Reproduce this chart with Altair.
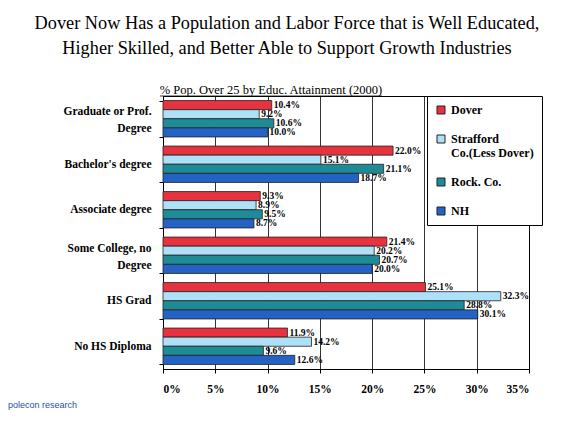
import altair as alt
import pandas as pd

categories = ["Graduate or Prof. Degree", "Bachelor's degree", "Associate degree",
              "Some College, no Degree", "HS Grad", "No HS Diploma"]
series = ["Dover", "Strafford Co.(Less Dover)", "Rock. Co.", "NH"]
dover = [10.4, 22.0, 9.3, 21.4, 25.1, 11.9]
strafford = [9.2, 15.1, 8.9, 20.2, 32.3, 14.2]
rock = [10.6, 21.1, 9.5, 20.7, 28.8, 9.6]
nh = [10.0, 18.7, 8.7, 20.0, 30.1, 12.6]
x_ticks = [0, 5, 10, 15, 20, 25, 30, 35]
colors = ["#e8323f", "#aee0f7", "#1e8c96", "#2463c4"]

title_lines = ["Dover Now Has a Population and Labor Force that is Well Educated,",
               "Higher Skilled, and Better Able to Support Growth Industries"]
subtitle = "% Pop. Over 25 by Educ. Attainment (2000)"
SERIF = "Liberation Serif"

rows = []
for s, vals in zip(series, [dover, strafford, rock, nh]):
    for c, v in zip(categories, vals):
        rows.append({"category": c, "series": s, "value": v, "label": f"{v:.1f}%"})
df = pd.DataFrame(rows)

multi_test = "datum.value == 'Graduate or Prof. Degree' || datum.value == 'Some College, no Degree'"
y_axis = alt.Axis(title=None, labelPadding=8, tickBand="extent", tickSize=4,
                  labelExpr="datum.value == 'Graduate or Prof. Degree' ? ['Graduate or Prof.', 'Degree'] : datum.value == 'Some College, no Degree' ? ['Some College, no', 'Degree'] : datum.value",
                  labelLineHeight=17,
                  labelOffset={"condition": {"test": multi_test, "value": -7}, "value": 0})
y_enc = alt.Y("category:N", sort=categories,
              scale=alt.Scale(paddingInner=0.2, paddingOuter=0.1), axis=y_axis)
yoff = alt.YOffset("series:N", sort=series)
x_axis = alt.Axis(title=None, values=x_ticks, labelExpr="datum.value + '%'",
                  labelPadding=10, tickSize=4, grid=True, gridColor="black",
                  gridWidth=0.8)
x_enc = alt.X("value:Q", scale=alt.Scale(domain=[0, 35], nice=False), axis=x_axis)

base = alt.Chart(df)
bars = base.mark_bar(stroke="#222", strokeWidth=0.8).encode(
    y=y_enc, yOffset=yoff, x=x_enc,
    color=alt.Color("series:N", sort=series,
                    scale=alt.Scale(domain=series, range=colors),
                    legend=alt.Legend(title=None, orient="none", legendX=264, legendY=0,
                                      padding=8, strokeColor="black", fillColor="white",
                                      symbolType="square", symbolSize=64,
                                      symbolStrokeColor="#222", symbolStrokeWidth=1,
                                      labelFont=SERIF, labelFontSize=12,
                                      labelFontWeight="bold", labelColor="black",
                                      rowPadding=17, labelLimit=200, labelOffset=4,
                                      labelExpr="datum.label == 'Strafford Co.(Less Dover)' ? ['Strafford', 'Co.(Less Dover)'] : datum.label"))
)
texts = base.mark_text(align="left", baseline="middle", dx=2, font=SERIF,
                       fontSize=9.5, fontWeight="bold", color="black").encode(
    y=alt.Y("category:N", sort=categories, axis=y_axis), yOffset=yoff,
    x=alt.X("value:Q", axis=x_axis), text="label:N"
)

sub_df = pd.DataFrame({"t": [subtitle]})
sub = alt.Chart(sub_df).mark_text(font=SERIF, fontSize=12.5, align="center",
                                  baseline="alphabetic", color="black").encode(
    x=alt.value(108), y=alt.value(-2), text="t:N")
underline = alt.Chart(sub_df).mark_rule(color="black", strokeWidth=0.8).encode(
    x=alt.value(-3), x2=alt.value(219), y=alt.value(0))
logo = alt.Chart(pd.DataFrame({"t": ["polecon research"]})).mark_text(
    font="Liberation Sans", fontSize=9, align="left", baseline="bottom",
    color="#1f4fa8").encode(
    x=alt.value(-155), y=alt.value(314), text="t:N")

chart = alt.layer(bars, texts, sub, underline, logo).properties(
    width=366, height=273,
    autosize=alt.AutoSizeParams(type="none"),
    padding={"left": 155, "top": 88, "right": 30, "bottom": 42},
    title=alt.Title(title_lines, font=SERIF, fontSize=18.3, fontWeight="normal",
                    color="black", anchor="middle", dx=-59, offset=26, lineHeight=25),
    background="white",
).configure_view(stroke="black", strokeWidth=1).configure_axis(
    labelFont=SERIF, labelFontSize=11.5, labelFontWeight="bold", labelColor="black",
    tickColor="black", domainColor="black"
)

chart.save("out.html", embed_options={"renderer": "svg", "actions": False})
